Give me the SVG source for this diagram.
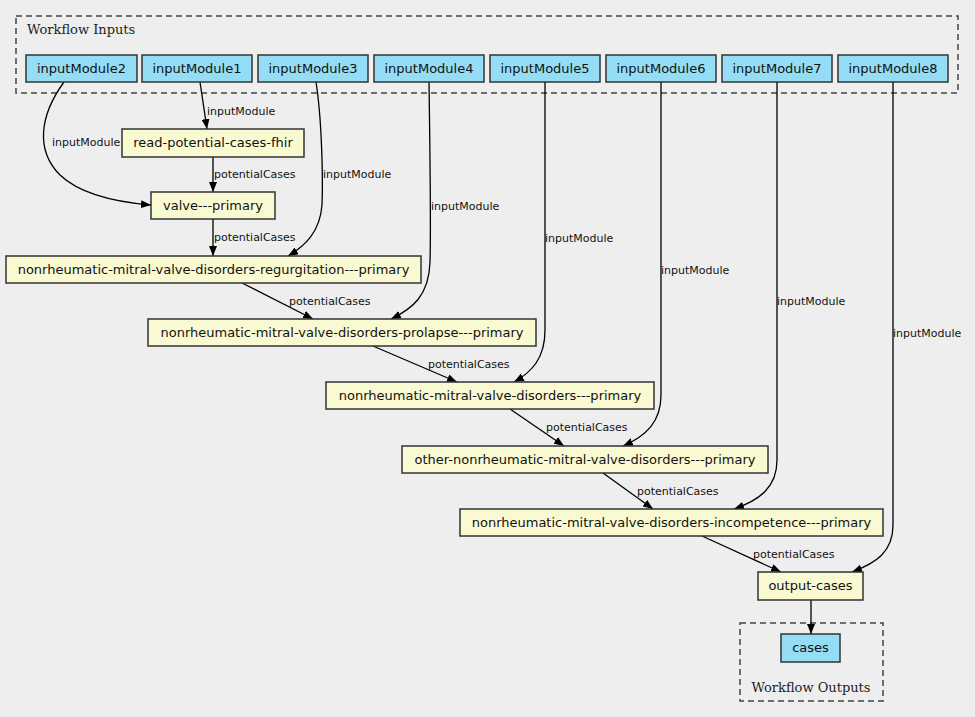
<svg xmlns="http://www.w3.org/2000/svg" width="975" height="717" viewBox="0 0 975 717">
<style>
.bg{fill:#eeeeee}
.cluster{fill:none;stroke:#444;stroke-width:1.5;stroke-dasharray:6,4}
.ctitle{font-family:"DejaVu Serif",serif;font-size:13px;fill:#222}
.in rect{fill:#94ddf4;stroke:#333;stroke-width:1.5}
.step rect{fill:#fafad2;stroke:#333;stroke-width:1.5}
.node text{font-family:"DejaVu Sans",sans-serif;font-size:13px;fill:#111;text-anchor:middle}
#edges path{fill:none;stroke:#000;stroke-width:1.3;marker-end:url(#arr)}
#edges text{font-family:"DejaVu Sans",sans-serif;font-size:11px;fill:#111}
</style>
<defs>
<marker id="arr" markerUnits="userSpaceOnUse" markerWidth="11" markerHeight="8" refX="10" refY="4" orient="auto">
<path d="M0,0 L10,4 L0,8 z" fill="#000"/>
</marker>
</defs>
<rect class="bg" x="0" y="0" width="975" height="717"/>
<g id="cluster-inputs">
<rect class="cluster" x="16" y="16" width="942" height="77"/>
<text class="ctitle" x="27" y="34">Workflow Inputs</text>
</g>
<g id="cluster-outputs">
<rect class="cluster" x="740" y="623" width="143" height="78"/>
<text class="ctitle" x="811" y="692" text-anchor="middle">Workflow Outputs</text>
</g>
<g id="edges">
<path d="M200,82 L207,129"/>
<text x="207" y="115">inputModule</text>
<path d="M64,82 C40,115 35,150 60,175 C80,194 115,202 151,205"/>
<text x="52" y="146">inputModule</text>
<path d="M316,82 C322,120 323,180 322,205 C320,232 305,246 288,256"/>
<text x="323" y="178">inputModule</text>
<path d="M213,157 L213,192"/>
<text x="214" y="178">potentialCases</text>
<path d="M213,219 L213,256"/>
<text x="214" y="241">potentialCases</text>
<path d="M429,82 C430,150 431,230 430,262 C429,296 412,309 391,319"/>
<text x="431" y="210">inputModule</text>
<path d="M242,283 L313,319"/>
<text x="289" y="305">potentialCases</text>
<path d="M545,82 L545,330 C545,358 532,372 514,382"/>
<text x="545" y="242">inputModule</text>
<path d="M373,346 L457,382"/>
<text x="428" y="368">potentialCases</text>
<path d="M661,82 L661,395 C661,422 646,436 623,446"/>
<text x="661" y="274">inputModule</text>
<path d="M510,409 L564,446"/>
<text x="546" y="431">potentialCases</text>
<path d="M777,82 L777,460 C777,487 760,500 734,509"/>
<text x="777" y="305">inputModule</text>
<path d="M603,473 L653,509"/>
<text x="637" y="495">potentialCases</text>
<path d="M893,82 L893,525 C893,552 876,563 852,572"/>
<text x="893" y="337">inputModule</text>
<path d="M702,536 L781,572"/>
<text x="753" y="558">potentialCases</text>
<path d="M811,600 L811,634"/>
</g>
<g id="inputModule2" class="node in"><rect x="26" y="55" width="111" height="27"/><text x="81.5" y="73">inputModule2</text></g>
<g id="inputModule1" class="node in"><rect x="142" y="55" width="110" height="27"/><text x="197" y="73">inputModule1</text></g>
<g id="inputModule3" class="node in"><rect x="258" y="55" width="110" height="27"/><text x="313" y="73">inputModule3</text></g>
<g id="inputModule4" class="node in"><rect x="374" y="55" width="110" height="27"/><text x="429" y="73">inputModule4</text></g>
<g id="inputModule5" class="node in"><rect x="490" y="55" width="110" height="27"/><text x="545" y="73">inputModule5</text></g>
<g id="inputModule6" class="node in"><rect x="606" y="55" width="110" height="27"/><text x="661" y="73">inputModule6</text></g>
<g id="inputModule7" class="node in"><rect x="722" y="55" width="110" height="27"/><text x="777" y="73">inputModule7</text></g>
<g id="inputModule8" class="node in"><rect x="838" y="55" width="110" height="27"/><text x="893" y="73">inputModule8</text></g>
<g id="read-potential-cases-fhir" class="node step"><rect x="122" y="129" width="182" height="28"/><text x="213" y="147">read-potential-cases-fhir</text></g>
<g id="valve-primary" class="node step"><rect x="151" y="192" width="124" height="27"/><text x="213" y="210">valve---primary</text></g>
<g id="regurgitation" class="node step"><rect x="6" y="256" width="415" height="27"/><text x="213.5" y="274">nonrheumatic-mitral-valve-disorders-regurgitation---primary</text></g>
<g id="prolapse" class="node step"><rect x="148" y="319" width="388" height="27"/><text x="342" y="337">nonrheumatic-mitral-valve-disorders-prolapse---primary</text></g>
<g id="nmvd-primary" class="node step"><rect x="326" y="382" width="328" height="27"/><text x="490" y="400">nonrheumatic-mitral-valve-disorders---primary</text></g>
<g id="other-nmvd" class="node step"><rect x="402" y="446" width="366" height="27"/><text x="585" y="464">other-nonrheumatic-mitral-valve-disorders---primary</text></g>
<g id="incompetence" class="node step"><rect x="460" y="509" width="423" height="27"/><text x="671.5" y="527">nonrheumatic-mitral-valve-disorders-incompetence---primary</text></g>
<g id="output-cases" class="node step"><rect x="758" y="572" width="105" height="28"/><text x="810.5" y="590">output-cases</text></g>
<g id="cases" class="node in"><rect x="781" y="634" width="59" height="28"/><text x="810.5" y="652">cases</text></g>
</svg>
